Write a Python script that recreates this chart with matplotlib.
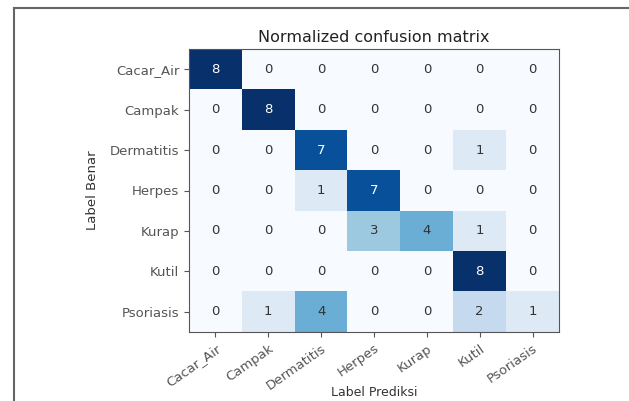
import numpy as np
import matplotlib.pyplot as plt
from matplotlib.lines import Line2D

classes = ['Cacar_Air', 'Campak', 'Dermatitis', 'Herpes', 'Kurap', 'Kutil', 'Psoriasis']
cm = np.array([
    [8, 0, 0, 0, 0, 0, 0],
    [0, 8, 0, 0, 0, 0, 0],
    [0, 0, 7, 0, 0, 1, 0],
    [0, 0, 1, 7, 0, 0, 0],
    [0, 0, 0, 3, 4, 1, 0],
    [0, 0, 0, 0, 0, 8, 0],
    [0, 1, 4, 0, 0, 2, 1],
])

W, H = 629, 401
fig = plt.figure(figsize=(W / 100, H / 100), dpi=100)
ax = fig.add_axes([189 / W, 1 - 332 / H, 370 / W, 283 / H])

ax.imshow(cm, interpolation='nearest', cmap=plt.cm.Blues, aspect='auto', vmin=0, vmax=8)
ax.set_title('Normalized confusion matrix', fontsize=11.5, color='#222222', pad=5)
ticks = np.arange(len(classes))
ax.set_xticks(ticks)
ax.set_xticklabels(classes, rotation=35, ha='right', va='top', rotation_mode='anchor',
                   fontsize=9.5, color='#333333')
ax.set_yticks(ticks)
ax.set_yticklabels(classes, fontsize=9.5, color='#333333')
for s in ax.spines.values():
    s.set_color('#555555')
ax.tick_params(colors='#555555')

thresh = cm.max() / 2.
for i in range(cm.shape[0]):
    for j in range(cm.shape[1]):
        ax.text(j, i, format(cm[i, j], 'd'), ha='center', va='center', fontsize=9.5,
                color='white' if cm[i, j] > thresh else '#333333')

ax.set_ylabel('Label Benar', fontsize=9.5, color='#333333', labelpad=8)
fig.text(374 / W, 1 - 393 / H, 'Label Prediksi', ha='center', va='center',
         fontsize=9, color='#333333')

# bingkai tangkapan layar
fig.add_artist(Line2D([14 / W, 1], [1 - 8 / H, 1 - 8 / H], color='#666666', lw=1.5))
fig.add_artist(Line2D([14 / W, 14 / W], [0, 1 - 8 / H], color='#666666', lw=1.5))

fig.savefig('out.png', dpi=100)
